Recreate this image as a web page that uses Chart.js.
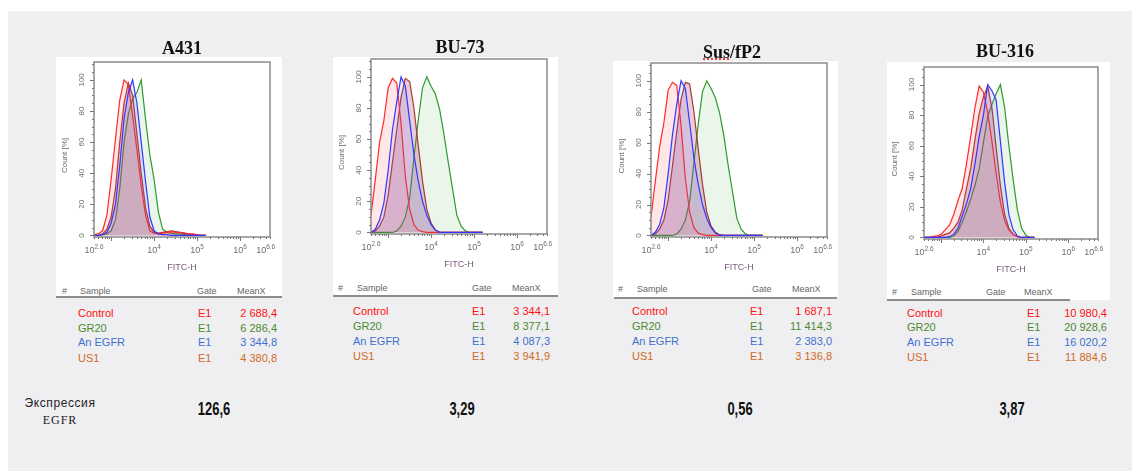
<!DOCTYPE html>
<html>
<head>
<meta charset="utf-8">
<script src="https://cdn.jsdelivr.net/npm/chart.js@4.4.0/dist/chart.umd.min.js"></script>
<style>
body { margin: 0; width: 1132px; height: 471px; background: #fff; position: relative; overflow: hidden; font-family: "Liberation Sans", Arial, sans-serif; }
#bg { position: absolute; left: 8px; top: 11px; right: 0; bottom: 0; background: #efeff1; }
.box { position: absolute; background: #fff; }
.rule { position: absolute; height: 2px; background: #8c8c8c; }
canvas { position: absolute; }
.t { position: absolute; white-space: nowrap; line-height: 1; }
.title { font-family: "Liberation Serif", "Times New Roman", serif; font-weight: bold; font-size: 18px; color: #111; }
.head { font-size: 9px; color: #666; }
.row { font-size: 11px; }
.big { font-family: "Liberation Sans", Arial, sans-serif; font-weight: bold; font-size: 18px; color: #111; }
.lab { font-family: "Liberation Sans", Arial, sans-serif; font-size: 12px; color: #222; letter-spacing: 0.6px; }
.lab2 { font-family: "Liberation Serif", serif; font-size: 12px; color: #222; letter-spacing: 1px; }
.sq { text-decoration: underline dotted #e03030; }
</style>
</head>
<body>
<div id="bg"></div>
<script>
// FITC-H channel, log10 units, 0.1 steps
const fitcLog = [2.6,2.7,2.8,2.9,3.0,3.1,3.2,3.3,3.4,3.5,3.6,3.7,3.8,3.9,4.0,4.1,4.2,4.3,4.4,4.5,4.6,4.7,4.8,4.9,5.0,5.1,5.2];

const sampleNames = ['Control', 'GR20', 'An EGFR', 'US1'];
const cellLines = ['A431', 'BU-73', 'Sus/fP2', 'BU-316'];

// Count [%] per sample
const a431Control = [0.5,1,3,13,36,62,87,100,97,77,55,32,13,3,1.5,1,1.5,2,2.5,2,2,1.5,1,1,0.5,0,0];
const a431Gr20    = [0,0,0.5,1,3,10,30,60,78,88,92,100,75,52,36,15,4,2,1.5,1,1,0.5,0.5,0,0,0,0];
const a431Egfr    = [0,0,0.5,2,8,20,45,75,92,100,85,60,35,12,3,1,0.5,0.5,0,0,0,0,0,0,0,0,0];
const a431Us1     = [0,0,1,4,12,30,60,85,98,90,65,40,18,6,2,1.5,2,2.5,3,2.5,2,1.5,1,0.5,0,0,0];

const bu73Control = [11,34,58,72,93,99,96,70,36,15,5,1.5,0.5,0,0,0,0,0,0,0,0,0,0,0,0,0,0];
const bu73Gr20    = [0,0,0,0,0,0,1,4,10,22,48,72,93,100,94,89,79,63,45,28,11,4,1,0,0,0,0];
const bu73Egfr    = [0,2,8,19,40,66,84,100,94,72,50,33,20,11,5,1.5,0,0,0,0,0,0,0,0,0,0,0];
const bu73Us1     = [0,1,4,10,24,45,66,87,99,97,80,56,33,15,6,1.5,0.3,0,0,0,0,0,0,0,0,0,0];

const susControl  = [12,35,57,73,94,99,97,71,37,15,5,1.5,0.5,0,0,0,0,0,0,0,0,0,0,0,0,0,0];
const susGr20     = [0,0,0,0,0,0,1,4,10,22,47,72,93,100,95,89,79,64,45,28,11,4,1,0,0,0,0];
const susEgfr     = [0,2,7,18,40,65,85,100,95,73,50,33,20,11,5,1.5,0,0,0,0,0,0,0,0,0,0,0];
const susUs1      = [0,1,4,10,23,45,67,88,99,98,80,56,33,15,6,2,0.5,0,0,0,0,0,0,0,0,0,0];

const bu316Control = [0,0,0.5,1,2,5,8,15,24,32,48,66,85,99,95,82,63,42,23,11,5,2,0.5,0,0,0,0];
const bu316Gr20    = [0,0,0,0,0,0,0,1,4,10,17,25,34,45,62,79,87,94,100,85,60,38,18,6,1.5,0,0];
const bu316Egfr    = [0,0,0,0,0,0,0.5,2,6,14,22,32,48,66,80,100,96,90,63,36,15,5,1,0,0,0,0];
const bu316Us1     = [0,0,0,0,1,2,3,6,10,18,32,45,64,81,92,99,85,59,34,15,6,2,0.5,0,0,0,0];

// MeanX table values
const meanA431  = ['2 688,4', '6 286,4', '3 344,8', '4 380,8'];
const meanBu73  = ['3 344,1', '8 377,1', '4 087,3', '3 941,9'];
const meanSus   = ['1 687,1', '11 414,3', '2 383,0', '3 136,8'];
const meanBu316 = ['10 980,4', '20 928,6', '16 020,2', '11 884,6'];

const expression = ['126,6', '3,29', '0,56', '3,87'];

const xTickExp = [2.6, 4, 5, 6, 6.6];
const yTicks = [0, 20, 40, 60, 80, 100];

const series = [
  [a431Control, a431Gr20, a431Egfr, a431Us1],
  [bu73Control, bu73Gr20, bu73Egfr, bu73Us1],
  [susControl, susGr20, susEgfr, susUs1],
  [bu316Control, bu316Gr20, bu316Egfr, bu316Us1]
];
const means = [meanA431, meanBu73, meanSus, meanBu316];

const lineColors = ['#ff2a2a', '#2f9a2f', '#3535ff', '#a83838'];
const fillColors = ['rgba(255,70,70,0.13)', 'rgba(70,180,70,0.12)', 'rgba(90,90,255,0.12)', 'rgba(160,60,100,0.25)'];
const textColors = ['#ff1010', '#4a8a30', '#3f6fd0', '#d06a28'];

// page layout of each panel: white box, plot frame, table columns
const layout = [
  { box: [56, 57, 282, 297], frame: [94, 62, 270, 237], title: [182, 48], rule: [56, 282],
    head: { y: 291, hash: 62, sample: 80, gate: 197, mean: 237 }, rows: { y: [313, 328, 342, 358], sample: 78, gate: 198, val: 277 }, big: 214 },
  { box: [333, 57, 558, 296], frame: [371, 59, 547, 234], title: [460, 47], rule: [333, 558],
    head: { y: 288, hash: 338, sample: 357, gate: 472, mean: 512 }, rows: { y: [311, 326, 341, 356], sample: 353, gate: 472, val: 550 }, big: 462 },
  { box: [613, 61, 838, 298], frame: [651, 63, 827, 237], title: [732, 52], rule: [614, 837],
    head: { y: 289, hash: 618, sample: 637, gate: 752, mean: 792 }, rows: { y: [311, 326, 341, 356], sample: 632, gate: 750, val: 832 }, big: 740 },
  { box: [887, 62, 1110, 300], frame: [924, 67, 1098, 239], title: [1005, 51], rule: [887, 1070],
    head: { y: 292, hash: 892, sample: 911, gate: 986, mean: 1024 }, rows: { y: [313, 327, 342, 357], sample: 907, gate: 1027, val: 1107 }, big: 1012 }
];

function txt(x, y, s, cls, align, color, squeeze) {
  const d = document.createElement('div');
  d.className = 't ' + cls;
  d.textContent = s;
  d.style.left = x + 'px';
  d.style.top = y + 'px';
  const tx = align === 'right' ? '-100%' : (align === 'left' ? '0' : '-50%');
  d.style.transform = 'translate(' + tx + ',-50%)' + (squeeze ? ' scaleX(' + squeeze + ')' : '');
  if (color) d.style.color = color;
  document.body.appendChild(d);
  return d;
}

const axisText = {
  id: 'axisText',
  afterDraw(chart) {
    const ctx = chart.ctx;
    const a = chart.chartArea;
    const xs = chart.scales.x, ys = chart.scales.y;
    ctx.save();
    // frame
    ctx.strokeStyle = '#8a8a8a';
    ctx.lineWidth = 1.5;
    ctx.strokeRect(a.left, a.top, a.right - a.left, a.bottom - a.top);
    // y ticks
    ctx.strokeStyle = '#777';
    ctx.lineWidth = 1;
    for (let v = 0; v <= 110; v += 5) {
      const y = Math.round(ys.getPixelForValue(v)) + 0.5;
      const len = v % 20 === 0 ? 4 : 2;
      ctx.beginPath(); ctx.moveTo(a.left - len, y); ctx.lineTo(a.left, y); ctx.stroke();
    }
    // x ticks, log minor
    for (let dec = 2; dec <= 6; dec++) {
      for (let k = 1; k < 10; k++) {
        const v = dec + Math.log10(k);
        if (v < 2.6 || v > 6.7) continue;
        const x = Math.round(xs.getPixelForValue(v)) + 0.5;
        const len = k === 1 ? 4 : 2;
        ctx.beginPath(); ctx.moveTo(x, a.bottom); ctx.lineTo(x, a.bottom + len); ctx.stroke();
      }
    }
    ctx.fillStyle = '#6e6e6e';
    ctx.textBaseline = 'middle';
    ctx.textAlign = 'center';
    ctx.font = '8px "Liberation Sans", Arial, sans-serif';
    yTicks.forEach(v => {
      ctx.save();
      ctx.translate(a.left - 12, ys.getPixelForValue(v));
      ctx.rotate(-Math.PI / 2);
      ctx.fillText(String(v), 0, 0);
      ctx.restore();
    });
    ctx.save();
    ctx.translate(a.left - 29, (a.top + a.bottom) / 2 + 6);
    ctx.rotate(-Math.PI / 2);
    ctx.fillText('Count [%]', 0, 0);
    ctx.restore();
    // x labels 10^e
    xTickExp.forEach(e => {
      const x = xs.getPixelForValue(e);
      ctx.font = '9px "Liberation Sans", Arial, sans-serif';
      const bw = ctx.measureText('10').width;
      ctx.font = '6.5px "Liberation Sans", Arial, sans-serif';
      const ew = ctx.measureText(String(e)).width;
      const x0 = x - (bw + ew) / 2;
      ctx.textAlign = 'left';
      ctx.font = '9px "Liberation Sans", Arial, sans-serif';
      ctx.fillText('10', x0, a.bottom + 14);
      ctx.font = '6.5px "Liberation Sans", Arial, sans-serif';
      ctx.fillText(String(e), x0 + bw, a.bottom + 10);
    });
    ctx.textAlign = 'center';
    ctx.fillStyle = '#7a5a7a';
    ctx.font = '9px "Liberation Sans", Arial, sans-serif';
    ctx.fillText('FITC-H', (a.left + a.right) / 2, a.bottom + 31);
    ctx.restore();
  }
};

// draw order: GR20 at back, then US1, Control, An EGFR on top
const drawOrder = [2, 0, 3, 1];

layout.forEach((L, p) => {
  const [bl, bt, br, bb] = L.box;
  const [fl, ft, fr, fb] = L.frame;
  const box = document.createElement('div');
  box.className = 'box';
  box.style.cssText = 'left:' + bl + 'px;top:' + bt + 'px;width:' + (br - bl) + 'px;height:' + (bb - bt) + 'px';
  document.body.appendChild(box);

  const rule = document.createElement('div');
  rule.className = 'rule';
  rule.style.cssText = 'left:' + L.rule[0] + 'px;top:' + (bb - 1) + 'px;width:' + (L.rule[1] - L.rule[0]) + 'px';
  document.body.appendChild(rule);

  const cv = document.createElement('canvas');
  const h = fb - bt + 40;
  cv.width = br - bl;
  cv.height = h;
  cv.style.left = bl + 'px';
  cv.style.top = bt + 'px';
  document.body.appendChild(cv);

  const datasets = drawOrder.map(i => ({
    label: sampleNames[i],
    data: fitcLog.map((x, j) => ({ x: x, y: series[p][i][j] })),
    borderColor: lineColors[i],
    backgroundColor: fillColors[i],
    borderWidth: 1.2,
    pointRadius: 0,
    tension: 0,
    fill: 'origin'
  }));

  new Chart(cv.getContext('2d'), {
    type: 'line',
    data: { datasets: datasets },
    options: {
      responsive: false,
      animation: false,
      events: [],
      layout: { padding: { top: ft - bt, right: br - fr, left: 0, bottom: 0 } },
      plugins: { legend: { display: false }, tooltip: { enabled: false } },
      scales: {
        x: {
          type: 'linear', min: 2.6, max: 6.7,
          grid: { display: false }, border: { display: false },
          ticks: { display: false },
          afterFit: s => { s.height = 40; }
        },
        y: {
          min: -1, max: 111.5,
          grid: { display: false }, border: { display: false },
          ticks: { display: false },
          afterFit: s => { s.width = fl - bl; }
        }
      }
    },
    plugins: [axisText]
  });

  // title
  const t = txt(L.title[0], L.title[1], '', 'title');
  if (cellLines[p] === 'Sus/fP2') {
    t.innerHTML = '<span class="sq">Sus</span>/fP2';
  } else {
    t.textContent = cellLines[p];
  }

  // table
  txt(L.head.hash, L.head.y, '#', 'head', 'left');
  txt(L.head.sample, L.head.y, 'Sample', 'head', 'left');
  txt(L.head.gate, L.head.y, 'Gate', 'head', 'left');
  txt(L.head.mean, L.head.y, 'MeanX', 'head', 'left');
  sampleNames.forEach((n, i) => {
    const y = L.rows.y[i];
    txt(L.rows.sample, y, n, 'row', 'left', textColors[i]);
    txt(L.rows.gate, y, 'E1', 'row', 'left', textColors[i]);
    txt(L.rows.val, y, means[p][i], 'row', 'right', textColors[i]);
  });

  txt(L.big, 409, expression[p], 'big', 'center', null, 0.72);
});

txt(60, 403, 'Экспрессия', 'lab', 'center');
txt(60, 420, 'EGFR', 'lab2', 'center');
</script>
</body>
</html>
